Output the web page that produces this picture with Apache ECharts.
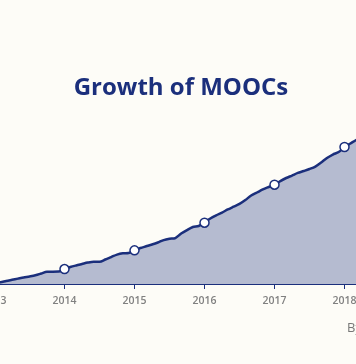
<!DOCTYPE html>
<html>
<head>
<meta charset="utf-8">
<script src="https://cdn.jsdelivr.net/npm/echarts@6/dist/echarts.min.js"></script>
<style>
html,body{margin:0;padding:0;background:#fdfcf7;overflow:hidden;width:356px;height:364px;position:relative;}
#chart{position:absolute;left:-100px;top:0;width:562px;height:364px;}
</style>
</head>
<body>
<div id="chart"></div>
<script>
// Monthly samples (YYYY-MM) and cumulative number of MOOCs
const months = [
  '2013-01','2013-02','2013-03','2013-04','2013-05','2013-06','2013-07','2013-08','2013-09','2013-10','2013-11','2013-12',
  '2014-01','2014-02','2014-03','2014-04','2014-05','2014-06','2014-07','2014-08','2014-09','2014-10','2014-11','2014-12',
  '2015-01','2015-02','2015-03','2015-04','2015-05','2015-06','2015-07','2015-08','2015-09','2015-10','2015-11','2015-12',
  '2016-01','2016-02','2016-03','2016-04','2016-05','2016-06','2016-07','2016-08','2016-09','2016-10','2016-11','2016-12',
  '2017-01','2017-02','2017-03','2017-04','2017-05','2017-06','2017-07','2017-08','2017-09','2017-10','2017-11','2017-12',
  '2018-01','2018-02','2018-03','2018-04'
];
const courses = [
  70,120,210,290,370,450,520,600,720,850,850,860,
  1030,1170,1280,1380,1480,1540,1540,1690,1860,2030,2120,2140,
  2320,2480,2600,2720,2860,3030,3120,3170,3480,3720,3930,4000,
  4230,4520,4740,4930,5140,5330,5520,5790,6100,6310,6520,6690,
  6850,7100,7310,7480,7660,7790,7930,8100,8380,8690,8930,9100,
  9450,9690,9930,10140
];
// Months that get a marker
const markedMonths = ['2014-01','2015-01','2016-01','2017-01','2018-01'];
const yearTicks = ['2012','2013','2014','2015','2016','2017','2018','2019'];
const titleText = 'Growth of MOOCs';
const creditText = 'By: Class Central';

function toYear(s){ const p = s.split('-'); return Number(p[0]) + (Number(p[1]) - 1) / 12; }
const lineData = months.map((m, i) => [toYear(m), courses[i]]);
const markerData = markedMonths.map(m => { const i = months.indexOf(m); return [toYear(m), courses[i]]; });

const NAVY = '#1b2f7c';
const chart = echarts.init(document.getElementById('chart'), null, {renderer: 'canvas'});
chart.setOption({
  backgroundColor: '#fdfcf7',
  animation: false,
  title: {
    text: titleText,
    left: 'center',
    top: 71,
    textStyle: {color: NAVY, fontSize: 24, fontWeight: 'bold', fontFamily: 'Open Sans'}
  },
  grid: {left: 24.5, right: 47.5, top: 110, bottom: 80},
  xAxis: {
    type: 'value',
    min: Number(yearTicks[0]),
    max: Number(yearTicks[yearTicks.length - 1]),
    interval: 1,
    splitLine: {show: false},
    axisLine: {lineStyle: {color: NAVY, width: 1}},
    axisTick: {show: true, length: 5, lineStyle: {color: NAVY, width: 1}},
    axisLabel: {color: '#808080', fontSize: 10.5, fontWeight: 600, fontFamily: 'Open Sans', margin: 12,
      formatter: v => String(Math.round(v))}
  },
  yAxis: {
    type: 'value', min: 0, max: 12000, show: false, splitLine: {show: false}
  },
  series: [
    {
      type: 'line',
      data: lineData,
      smooth: 0.3,
      symbol: 'none',
      lineStyle: {color: NAVY, width: 2.5},
      areaStyle: {color: '#b5bbd0', opacity: 1},
      z: 2
    },
    {
      type: 'scatter',
      data: markerData,
      symbol: 'circle',
      symbolSize: 9,
      itemStyle: {color: '#ffffff', borderColor: NAVY, borderWidth: 1.5, opacity: 1},
      z: 3
    }
  ],
  graphic: [
    {type: 'text', left: 447, top: 322, style: {text: creditText, fill: '#777777', fontSize: 13, fontFamily: 'Open Sans'}}
  ]
});
</script>
</body>
</html>
